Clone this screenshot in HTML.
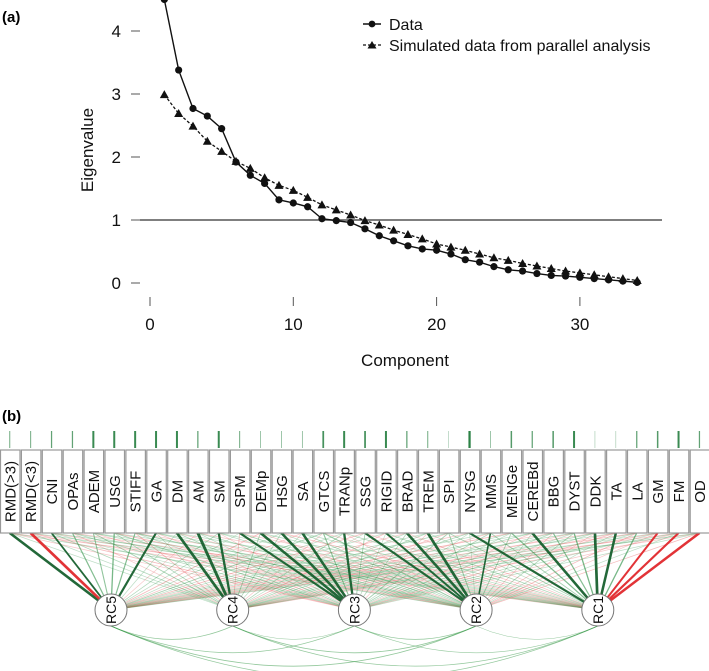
<!DOCTYPE html>
<html><head><meta charset="utf-8">
<style>
html,body{margin:0;padding:0;background:#fff;}
svg{display:block;font-family:"Liberation Sans",Arial,sans-serif;}
</style></head>
<body>
<svg id="fig" width="709" height="671" viewBox="0 0 709 671">
  <text x="2" y="22" font-size="15" font-weight="bold">(a)</text>
  <text x="2" y="421" font-size="15" font-weight="bold">(b)</text>
  <g id="scree"></g>
  <g id="path"></g>
</svg>
<script>
const components = [1,2,3,4,5,6,7,8,9,10,11,12,13,14,15,16,17,18,19,20,21,22,23,24,25,26,27,28,29,30,31,32,33,34];
const dataEigen = [4.5,3.38,2.77,2.65,2.45,1.92,1.71,1.58,1.32,1.27,1.21,1.02,0.99,0.96,0.86,0.75,0.67,0.59,0.54,0.52,0.46,0.37,0.33,0.26,0.21,0.19,0.15,0.12,0.11,0.09,0.07,0.05,0.03,0.01];
const simEigen = [2.99,2.69,2.49,2.25,2.09,1.93,1.82,1.67,1.55,1.47,1.36,1.24,1.16,1.08,0.99,0.92,0.84,0.77,0.70,0.62,0.57,0.52,0.46,0.40,0.36,0.31,0.27,0.23,0.19,0.16,0.13,0.10,0.07,0.04];
const yTicks = [0,1,2,3,4];
const xTicks = [0,10,20,30];

const indicators = ["RMD(>3)","RMD(<3)","CNI","OPAs","ADEM","USG","STIFF","GA","DM","AM","SM","SPM","DEMp","HSG","SA","GTCS","TRANp","SSG","RIGID","BRAD","TREM","SPI","NYSG","MMS","MENGe","CEREBd","BBG","DYST","DDK","TA","LA","GM","FM","OD"];
const factors = ["RC5","RC4","RC3","RC2","RC1"];
const loadings = [
[0.7,0.1,-0.1,0.15,-0.1],[-0.75,0.1,-0.15,-0.1,0.1],[0.5,0.15,0.1,-0.1,0.15],[0.35,-0.1,0.15,0.1,-0.1],
[0.3,0.2,-0.1,0.15,0.1],[0.4,0.15,0.2,-0.15,0.1],[0.35,-0.15,0.1,0.2,-0.1],[0.6,0.1,-0.1,0.15,0.1],
[0.1,0.75,0.15,-0.1,0.1],[-0.1,0.8,0.1,0.15,-0.1],[0.15,0.65,-0.1,0.1,0.1],[0.1,-0.15,0.6,0.2,-0.1],
[-0.15,0.2,0.7,-0.1,0.15],[0.1,0.15,0.7,0.1,-0.15],[-0.1,0.1,0.7,0.15,0.1],[0.2,-0.1,0.3,0.25,-0.1],
[0.1,0.15,0.65,-0.1,0.15],[-0.15,0.1,0.2,0.6,-0.1],[0.1,-0.15,0.1,0.55,0.15],[-0.1,0.1,0.15,0.7,-0.1],
[0.1,0.15,-0.1,0.75,0.1],[0.15,-0.1,0.2,0.25,0.2],[-0.1,0.15,0.1,0.1,0.6],[0.1,-0.1,0.15,0.45,0.2],
[-0.15,0.1,0.1,0.2,0.35],[0.1,0.15,-0.1,0.1,0.7],[-0.1,0.1,0.15,-0.1,0.35],[0.15,-0.1,0.1,0.15,0.4],
[-0.1,0.15,0.1,-0.1,0.75],[0.1,-0.1,-0.15,0.1,0.7],[-0.15,0.1,0.1,-0.15,0.4],[0.1,-0.15,0.1,-0.1,-0.55],
[-0.1,0.15,-0.1,0.1,-0.6],[0.15,-0.1,0.1,-0.15,-0.7]];
const residuals = [0.4,0.4,0.5,0.5,0.8,0.8,0.8,0.8,0.8,0.5,0.8,0.4,0.3,0.3,0.3,0.7,0.8,0.7,0.8,0.5,0.4,0.2,0.9,0.3,0.6,0.5,0.6,0.8,0.2,0.2,0.5,0.6,0.8,0.5];
const factorCorr = [[0,1,0.3],[0,2,0.3],[0,3,0.35],[0,4,0.3],[1,2,0.2],[1,3,0.35],[1,4,0.3],[2,3,0.3],[2,4,0.25],[3,4,0.2]];

const NS="http://www.w3.org/2000/svg";
function mk(tag, attrs, parent){const e=document.createElementNS(NS,tag);for(const k in attrs)e.setAttribute(k,attrs[k]);parent.appendChild(e);return e;}

// ---- Scree plot ----
const scree=document.getElementById('scree');
const xs=v=>150+v*14.33;
const ys=v=>283-v*63;
yTicks.forEach(t=>{
  const l=mk('line',{x1:131,x2:140,y1:ys(t),y2:ys(t),stroke:'#555','stroke-width':1},scree);
  
  
  const tx=mk('text',{x:121,y:ys(t)+6,'font-size':17,'text-anchor':'end',fill:'#111'},scree);
  tx.textContent=t;
  
  
});
xTicks.forEach(t=>{
  const l=mk('line',{x1:xs(t),x2:xs(t),y1:297,y2:306,stroke:'#555','stroke-width':1},scree);
  
  
  const tx=mk('text',{x:xs(t),y:330,'font-size':17,'text-anchor':'middle',fill:'#111'},scree);
  tx.textContent=t;
  
  
});
const yt=mk('text',{x:0,y:0,'font-size':17,'text-anchor':'middle',transform:'translate(93,150) rotate(-90)',fill:'#111'},scree);
yt.textContent='Eigenvalue';


const xt=mk('text',{x:405,y:366,'font-size':17,'text-anchor':'middle',fill:'#111'},scree);
xt.textContent='Component';


const ref=mk('line',{x1:140,x2:662,y1:ys(1),y2:ys(1),stroke:'#555','stroke-width':1.5},scree);



const simPath=mk('polyline',{points:components.map((c,i)=>xs(c)+','+ys(simEigen[i])).join(' '),fill:'none',stroke:'#111','stroke-width':1.3,'stroke-dasharray':'3,2'},scree);


components.forEach((c,i)=>{
  const x=xs(c),y=ys(simEigen[i]);
  const p=mk('polygon',{points:`${x},${y-4.5} ${x-4.5},${y+3.5} ${x+4.5},${y+3.5}`,fill:'#111'},scree);
  
  
});
const dataPath=mk('polyline',{points:components.map((c,i)=>xs(c)+','+ys(dataEigen[i])).join(' '),fill:'none',stroke:'#111','stroke-width':1.4},scree);


components.forEach((c,i)=>{
  const p=mk('circle',{cx:xs(c),cy:ys(dataEigen[i]),r:3.6,fill:'#111'},scree);
  
  
});
// legend
const lg=mk('g',{},scree);


mk('line',{x1:363,x2:381,y1:24,y2:24,stroke:'#111','stroke-width':1.4},lg);
mk('circle',{cx:372,cy:24,r:3.4,fill:'#111'},lg);
const l1=mk('text',{x:389,y:30,'font-size':16,fill:'#111'},lg);l1.textContent='Data';


mk('line',{x1:363,x2:381,y1:45,y2:45,stroke:'#111','stroke-width':1.3,'stroke-dasharray':'3,2'},lg);
mk('polygon',{points:'372,41 367.5,48.5 376.5,48.5',fill:'#111'},lg);
const l2=mk('text',{x:389,y:51,'font-size':16,fill:'#111'},lg);l2.textContent='Simulated data from parallel analysis';



// ---- Path diagram ----
const pd=document.getElementById('path');
const pitch=20.9, bw=19.5, bTop=450, bBot=533;
const bx=i=>i*pitch+bw/2;
const fx=j=>111+j*121.7, fy=610, fr=16;
factorCorr.forEach(([a,b,r])=>{
  const x1=fx(a),x2=fx(b),d=x2-x1;
  const cy=fy+fr+ d*0.22;
  const p=mk('path',{d:`M${x1},${fy+fr} Q${(x1+x2)/2},${cy} ${x2},${fy+fr}`,fill:'none',stroke:'#3a9a4a','stroke-width':r*2.4,'stroke-opacity':0.55},pd);
  
  
});
const order=[];
indicators.forEach((_,i)=>factors.forEach((_,j)=>order.push([i,j])));
order.sort((a,b)=>Math.abs(loadings[a[0]][a[1]])-Math.abs(loadings[b[0]][b[1]]));
order.forEach(([i,j])=>{
  const l=loadings[i][j];
  const x1=bx(i),y1=bBot,cx=fx(j);
  const dx=x1-cx,dy=y1-fy,dd=Math.hypot(dx,dy);
  const x2=cx+dx/dd*fr,y2=fy+dy/dd*fr;
  const a=Math.abs(l);
  const strong=a>=0.45;
  const ln=mk('line',{x1:x1,y1:y1,x2:x2,y2:y2,stroke:l>0?(strong?'#17602e':'#3f9a55'):(strong?'#e0282c':'#e6585a'),'stroke-width':strong?a*3.6:0.5+a*2,'stroke-opacity':strong?0.95:0.22+a*1.2},pd);
  
  
});
indicators.forEach((name,i)=>{
  const x=i*pitch;
  const ar=mk('line',{x1:bx(i),x2:bx(i),y1:431,y2:448,stroke:'#1f7a3a','stroke-width':residuals[i]*2.5,'stroke-opacity':0.4+residuals[i]*0.6},pd);
  
  
  const r=mk('rect',{x:x+0.5,y:bTop,width:bw,height:bBot-bTop,fill:'#fff',stroke:'#999','stroke-width':1.2},pd);
  
  
  const t=mk('text',{x:0,y:0,'font-size':15,'text-anchor':'middle',fill:'#111',transform:`translate(${bx(i)+5.5},${(bTop+bBot)/2}) rotate(-90)`},pd);
  t.textContent=name;
  
  
});
factors.forEach((f,j)=>{
  const c=mk('circle',{cx:fx(j),cy:fy,r:fr,fill:'#fff',stroke:'#777','stroke-width':1},pd);
  
  
  const t=mk('text',{x:0,y:0,'font-size':14,'text-anchor':'middle',fill:'#111',transform:`translate(${fx(j)+5},${fy}) rotate(-90)`},pd);
  t.textContent=f;
  
  
});
</script>
</body></html>
